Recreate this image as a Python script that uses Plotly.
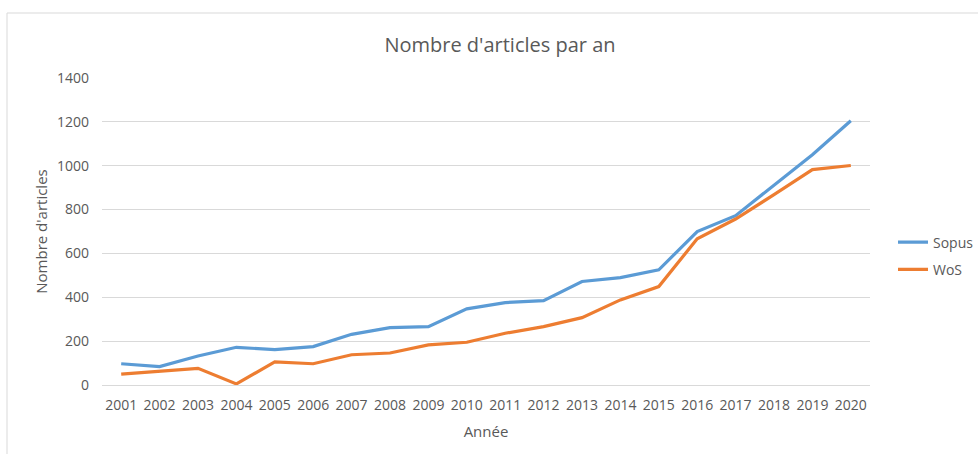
import plotly.graph_objects as go

years = [str(y) for y in range(2001, 2021)]
sopus = [97, 84, 132, 172, 161, 175, 231, 262, 266, 347, 376, 385, 472, 490, 525, 700, 772, 913, 1050, 1205]
wos = [50, 64, 76, 5, 105, 97, 138, 146, 183, 195, 236, 266, 307, 388, 449, 667, 757, 868, 982, 1001]
y_ticks = [0, 200, 400, 600, 800, 1000, 1200, 1400]

FONT = "Open Sans"
GRAY = "#595959"

fig = go.Figure()
fig.add_trace(go.Scatter(x=years, y=sopus, mode="lines", name="Sopus", legendgroup="a",
                         line=dict(color="#5B9BD5", width=3.2)))
fig.add_trace(go.Scatter(x=years, y=wos, mode="lines", name="WoS", legendgroup="b",
                         line=dict(color="#ED7D31", width=3.2)))

L, R, T, B = 102, 108, 78, 69
W, H = 978, 454
pw, ph = W - L - R, H - T - B

fig.update_layout(
    width=W, height=H,
    margin=dict(l=L, r=R, t=T, b=B, autoexpand=False),
    paper_bgcolor="white", plot_bgcolor="white",
    font=dict(family=FONT, color=GRAY, size=14),
    title=dict(text="Nombre d'articles par an", x=(500 - L) / pw, xref="paper", xanchor="center",
               y=1 - 45 / H, yanchor="middle", font=dict(size=20, color=GRAY, family=FONT)),
    legend=dict(x=(893 - L) / pw, xanchor="left", y=(385 - 256) / ph,
                yanchor="middle", font=dict(size=14, color=GRAY), tracegroupgap=6,
                bgcolor="rgba(0,0,0,0)"),
    showlegend=True,
    xaxis=dict(type="category", range=[-0.5, 19.5], showgrid=False, showline=False, zeroline=False,
               ticks="", ticklabelstandoff=10, tickfont=dict(size=14, color=GRAY), automargin=False,
               title=dict(text="Année", font=dict(size=15, color=GRAY), standoff=13)),
    yaxis=dict(range=[0, 1400], tickvals=y_ticks, showgrid=True, gridcolor="#D9D9D9", gridwidth=1,
               zeroline=True, zerolinecolor="#D9D9D9", zerolinewidth=1, showline=False, ticks="",
               ticklabelstandoff=12, tickfont=dict(size=14, color=GRAY), automargin=False,
               title=dict(text="Nombre d'articles", font=dict(size=15, color=GRAY), standoff=5)),
    shapes=[dict(type="rect", xref="paper", yref="paper",
                 x0=(7 - L) / pw, x1=(W + 5 - L) / pw,
                 y0=(385 - (H + 5)) / ph, y1=(385 - 13) / ph,
                 line=dict(color="#D9D9D9", width=1), fillcolor="rgba(0,0,0,0)", layer="below")],
)

fig.write_html("out.html", config={"displayModeBar": False},
               post_script="document.body.style.margin='0';document.body.style.overflow='hidden';")
